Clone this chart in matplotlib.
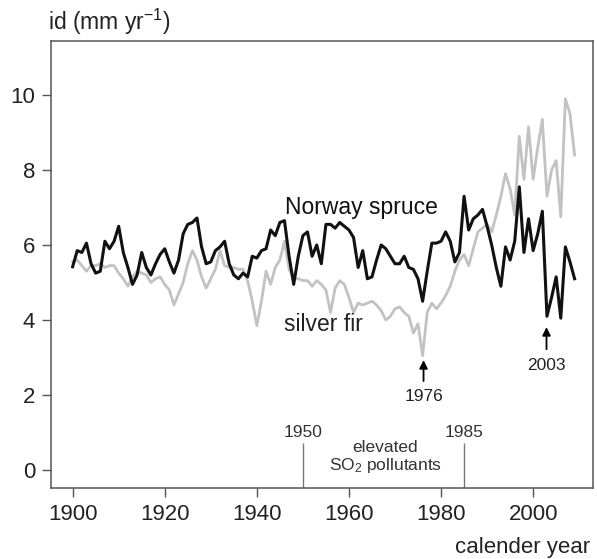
import numpy as np
import matplotlib
matplotlib.use("Agg")
import matplotlib.pyplot as plt

plt.rcParams['font.family'] = ['Liberation Sans', 'DejaVu Sans']
plt.rcParams['mathtext.fontset'] = 'custom'
plt.rcParams['mathtext.rm'] = 'Liberation Sans'
plt.rcParams['mathtext.it'] = 'Liberation Sans'

years = list(range(1900, 2010))

spruce = [
    5.42, 5.85, 5.80, 6.05, 5.50, 5.25, 5.30, 6.10, 5.90, 6.10,   # 1900-1909
    6.50, 5.80, 5.40, 4.95, 5.20, 5.80, 5.40, 5.20, 5.50, 5.75,   # 1910-1919
    5.90, 5.55, 5.25, 5.60, 6.30, 6.55, 6.60, 6.72, 5.95, 5.50,   # 1920-1929
    5.55, 5.85, 5.95, 6.10, 5.50, 5.20, 5.10, 5.25, 5.15, 5.70,   # 1930-1939
    5.65, 5.85, 5.90, 6.40, 6.25, 6.60, 6.65, 5.70, 4.95, 5.70,   # 1940-1949
    6.25, 6.35, 5.70, 6.00, 5.50, 6.55, 6.55, 6.45, 6.60, 6.50,   # 1950-1959
    6.40, 6.20, 5.40, 5.85, 5.10, 5.15, 5.60, 6.00, 5.90, 5.70,   # 1960-1969
    5.50, 5.50, 5.70, 5.40, 5.35, 5.10, 4.50, 5.30, 6.05, 6.05,   # 1970-1979
    6.10, 6.35, 6.10, 5.55, 5.80, 7.30, 6.40, 6.70, 6.80, 6.95,   # 1980-1989
    6.50, 6.00, 5.40, 4.90, 5.95, 5.60, 6.10, 7.55, 5.80, 6.70,   # 1990-1999
    5.85, 6.30, 6.90, 4.10, 4.60, 5.15, 4.05, 5.95, 5.55, 5.10,   # 2000-2009
]

fir = [
    5.55, 5.60, 5.45, 5.30, 5.45, 5.45, 5.50, 5.40, 5.45, 5.45,   # 1900-1909
    5.25, 5.10, 4.90, 5.15, 5.30, 5.25, 5.20, 5.00, 5.10, 5.15,   # 1910-1919
    4.95, 4.80, 4.40, 4.70, 5.00, 5.50, 5.85, 5.60, 5.15, 4.85,   # 1920-1929
    5.10, 5.35, 5.85, 5.45, 5.40, 5.40, 5.35, 5.35, 5.05, 4.50,   # 1930-1939
    3.85, 4.50, 5.30, 4.95, 5.40, 5.60, 6.10, 5.35, 5.10, 5.10,   # 1940-1949
    5.05, 5.05, 4.90, 5.05, 4.95, 4.80, 4.20, 4.85, 5.05, 4.95,   # 1950-1959
    4.60, 4.20, 4.45, 4.40, 4.45, 4.50, 4.40, 4.25, 4.00, 4.10,   # 1960-1969
    4.30, 4.35, 4.20, 4.10, 3.65, 3.90, 3.05, 4.20, 4.45, 4.30,   # 1970-1979
    4.45, 4.65, 4.90, 5.30, 5.60, 5.75, 5.45, 5.90, 6.35, 6.45,   # 1980-1989
    6.55, 6.35, 6.80, 7.30, 7.90, 7.50, 6.80, 8.90, 7.75, 9.15,   # 1990-1999
    7.75, 8.60, 9.35, 7.30, 8.00, 8.25, 6.75, 9.90, 9.50, 8.40,   # 2000-2009
]

xticks = [1900, 1920, 1940, 1960, 1980, 2000]
yticks = [0, 2, 4, 6, 8, 10]

W, H = 597, 559
fig = plt.figure(figsize=(W / 100, H / 100), dpi=100)
ax = fig.add_axes([51 / W, 1 - 488 / H, (593 - 51) / W, (488 - 41) / H])

ax.plot(years, fir, color='#c2c2c2', lw=2.0, zorder=2)
ax.plot(years, spruce, color='#111111', lw=2.2, zorder=3)

ax.set_xlim(1895.3, 2013.0)
ax.set_ylim(-0.48, 11.44)
ax.set_xticks(xticks)
ax.set_yticks(yticks)
ax.tick_params(direction='out', length=6.5, width=1.0, color='#555555',
               labelsize=16, labelcolor='#222222', pad=5)
for s in ax.spines.values():
    s.set_color('#555555')
    s.set_linewidth(1.1)

# SO2 period markers
ax.vlines([1950, 1985], -0.48, 0.72, color='#777777', lw=1.0)
ax.text(1950, 1.0, '1950', ha='center', va='center', fontsize=12.5, color='#333333')
ax.text(1985, 1.0, '1985', ha='center', va='center', fontsize=12.5, color='#333333')
ax.text(1967.9, 0.61, 'elevated', ha='center', va='center', fontsize=12.5, color='#333333')
ax.text(1967.9, 0.13, 'SO$_2$ pollutants', ha='center', va='center', fontsize=12.5, color='#333333')

# event arrows
ax.annotate('1976', xy=(1976.2, 2.93), xytext=(1976.2, 1.95), ha='center', va='center',
            fontsize=12.5, color='#222222',
            arrowprops=dict(arrowstyle='-|>', color='black', lw=1.3, shrinkA=4, shrinkB=0,
                            mutation_scale=12))
ax.annotate('2003', xy=(2002.9, 3.81), xytext=(2002.9, 2.8), ha='center', va='center',
            fontsize=12.5, color='#222222',
            arrowprops=dict(arrowstyle='-|>', color='black', lw=1.3, shrinkA=4, shrinkB=0,
                            mutation_scale=12))

ax.text(1946.1, 7.01, 'Norway spruce', ha='left', va='center', fontsize=16.5, color='#111111')
ax.text(1945.9, 3.87, 'silver fir', ha='left', va='center', fontsize=16.5, color='#222222')

fig.text(48 / W, 1 - 22 / H, 'id (mm yr$^{\\mathregular{-1}}$)', ha='left', va='center',
         fontsize=16.5, color='#222222')
fig.text(590 / W, 1 - 547 / H, 'calender year', ha='right', va='center', fontsize=16, color='#222222')

fig.savefig('out.png', dpi=100)
